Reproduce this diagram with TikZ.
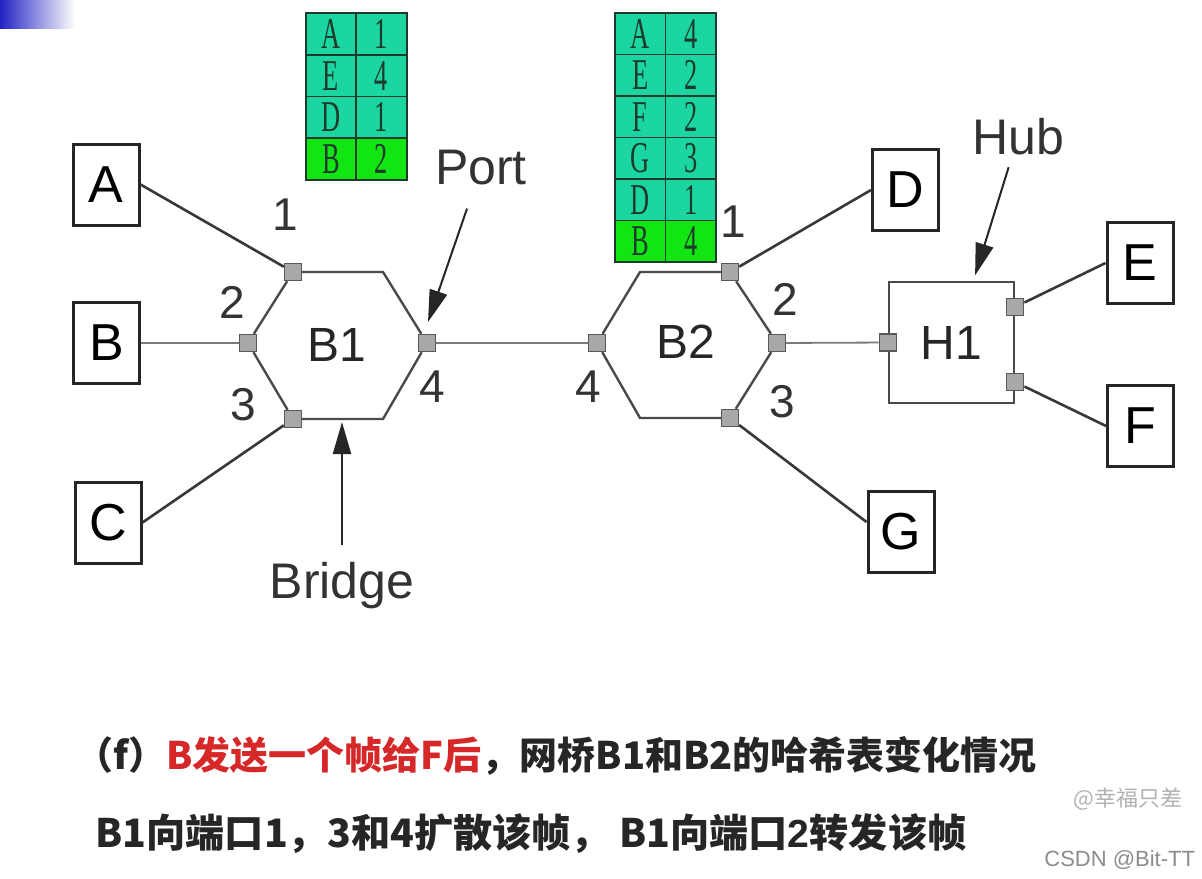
\documentclass[tikz,border=0pt]{standalone}
\usepackage{fontspec}
\usepackage{graphicx}
\setmainfont{Liberation Sans}
\newfontfamily\cjk{Noto Sans CJK SC}
\newfontfamily\tabfont{Liberation Serif}
\usetikzlibrary{positioning,arrows.meta,calc}
\definecolor{cLine}{HTML}{383838}
\definecolor{cDev}{HTML}{4A4A4A}
\definecolor{cLink}{HTML}{7A7A7A}
\definecolor{cPort}{HTML}{A8A8A8}
\definecolor{cTab}{HTML}{1BD6A0}
\definecolor{cTabNew}{HTML}{12E612}
\definecolor{cTabLine}{HTML}{1E3A2C}
\definecolor{cRed}{HTML}{D62828}
\definecolor{cCorner}{HTML}{2323C4}
\newcommand{\cellchar}[1]{\scalebox{0.6}[1]{#1}}
\tikzset{
  host/.style   ={draw=black!85, line width=1.5pt, fill=white, inner sep=0pt,
                  minimum width=33pt, minimum height=40.5pt, font=\fontsize{26}{30}\selectfont},
  port/.style   ={draw=black!65, fill=cPort, line width=0.7pt, minimum size=8.5pt, inner sep=0pt},
  dev/.style    ={draw=cDev, line width=1.2pt},
  devtxt/.style ={inner sep=0pt, font=\fontsize{24}{28}\selectfont, text=black!85},
  hubbox/.style ={dev, inner sep=0pt, minimum width=62.5pt, minimum height=60.5pt,
                  font=\fontsize{24}{28}\selectfont, text=black!85},
  link/.style   ={draw=cLine, line width=1.3pt},
  trunk/.style  ={draw=cLink, line width=0.9pt},
  num/.style    ={inner sep=0pt, font=\fontsize{23}{27}\selectfont, text=black!80},
  callout/.style={inner sep=0pt, font=\fontsize{25}{30}\selectfont, text=black!80},
  arr/.style    ={-{Triangle[length=16pt,width=9pt]}, line width=1pt, draw=black!85},
  tcell/.style  ={draw=cTabLine, fill=cTab, line width=0.8pt, inner sep=0pt,
                  minimum width=25.25pt, minimum height=20.85pt,
                  font=\tabfont\fontsize{22}{24}\selectfont, text=cTabLine},
  tnew/.style   ={tcell, fill=cTabNew},
  capt/.style   ={inner sep=0pt, font=\cjk\bfseries\fontsize{19}{24}\selectfont, text=black!85},
  wm/.style     ={inner sep=0pt, text=black!30},
}

\begin{document}
\begin{tikzpicture}[x=0.5pt, y=-0.5pt]
\useasboundingbox (0,0) rectangle (1202,878);
\fill[white] (0,0) rectangle (1202,878);
\shade[left color=cCorner, right color=white] (0,0) rectangle (75,28);

% hosts
\node[host] (nA) at (106,184.5) {A};
\node[host] (nB) at (106.5,343) {B};
\node[host] (nC) at (108,522.5) {C};
\node[host] (nD) at (905.5,190) {D};
\node[host] (nE) at (1140,263) {E};
\node[host] (nF) at (1140.5,426) {F};
\node[host] (nG) at (901,532) {G};

% bridge B1
\node[port] (p1) at (293,272) {};
\node[port] (p2) at (248,343) {};
\node[port] (p3) at (293,419) {};
\node[port] (p4) at (427,343) {};
\coordinate (b1tr) at (383,272);
\coordinate (b1br) at (383,419);
\draw[dev] (p1) -- (b1tr) -- (p4) -- (b1br) -- (p3) -- (p2) -- (p1);
\node[devtxt] (B1) at (337,345) {B1};

% bridge B2
\node[port] (q1) at (730,272) {};
\node[port] (q2) at (777,343) {};
\node[port] (q3) at (730,418) {};
\node[port] (q4) at (597,343) {};
\coordinate (b2tl) at (640,272);
\coordinate (b2bl) at (640,418);
\draw[dev] (q4) -- (b2tl) -- (q1) -- (q2) -- (q3) -- (b2bl) -- (q4);
\node[devtxt] (B2) at (686,342) {B2};

% hub H1
\node[hubbox] (H1) at (951.5,342.5) {H1};
\node[port] (h0) at (H1.west) {};
\node[port] (hE) at ([yshift=17.75pt]H1.east) {};
\node[port] (hF) at ([yshift=-19.75pt]H1.east) {};

% links
\draw[link] (nA.east) -- (p1);
\draw[trunk] (nB.east) -- (p2);
\draw[link] (nC.east) -- (p3);
\draw[trunk] (p4) -- (q4);
\draw[link] (q1) -- (nD.west);
\draw[link] (q3) -- ([yshift=5pt]nG.west);
\draw[trunk] (q2) -- (h0);
\draw[link] (hE) -- (nE.west);
\draw[link] (hF) -- (nF.west);

% port numbers
\node[num] (n11) at (285,215) {1};
\node[num] (n12) at (232,302) {2};
\node[num] (n13) at (243,405) {3};
\node[num] (n14) at (432,387) {4};
\node[num] (n21) at (733,222) {1};
\node[num] (n22) at (785,299) {2};
\node[num] (n23) at (782,402) {3};
\node[num] (n24) at (588,387) {4};

% callouts
\node[callout] (lPort) at (481,168) {Port};
\node[callout] (lHub) at (1018,137) {Hub};
\node[callout, anchor=base] (lBridge) at (342,598) {Bridge};
\coordinate (portTip) at (428,322);
\coordinate (b1bot) at (342,419);
\coordinate (hubTop) at (973,282);
\draw[arr, shorten <=12pt] (lPort) -- (portTip);
\draw[arr, shorten <=8pt, shorten >=1.5pt] (lBridge) -- (b1bot);
\draw[arr, shorten <=6pt, shorten >=3.5pt] (lHub) -- (hubTop);

% hash tables
\foreach \k/\p [count=\i from 0] in {A/1,E/4,D/1}{
  \node[tcell] (ta\i) at (331,{33.9+41.75*\i}) {\cellchar{\k}};
  \node[tcell] (tb\i) at (381.5,{33.9+41.75*\i}) {\cellchar{\p}};
}
\node[tnew] (ta3) at (331,159.1) {\cellchar{B}};
\node[tnew] (tb3) at (381.5,159.1) {\cellchar{2}};
\foreach \k/\p [count=\i from 0] in {A/4,E/2,F/2,G/3,D/1}{
  \node[tcell] (tc\i) at (640.25,{33.75+41.5*\i}) {\cellchar{\k}};
  \node[tcell] (td\i) at (690.75,{33.75+41.5*\i}) {\cellchar{\p}};
}
\node[tnew] (tc5) at (640.25,241.25) {\cellchar{B}};
\node[tnew] (td5) at (690.75,241.25) {\cellchar{4}};

% caption
\node[capt, anchor=base west] (cap1) at (75,769)
   {（f）{\color{cRed}B发送一个帧给F后}，网桥B1和B2的哈希表变化情况};
\node[capt, anchor=base west, font=\cjk\bfseries\fontsize{19.6}{24}\selectfont] (cap2) at (95,847)
   {B1向端口1，3和4扩散该帧， B1向端口{\rmfamily\bfseries 2}转发该帧};

% watermarks
\node[wm, anchor=base west, font=\cjk\fontsize{11}{13}\selectfont] (wm1) at (1073,806) {@幸福只差};
\node[wm, anchor=base west, text=black!45, font=\fontsize{11}{13}\selectfont] (wm2) at (1044,866) {CSDN @Bit-TT};
\end{tikzpicture}
\end{document}
